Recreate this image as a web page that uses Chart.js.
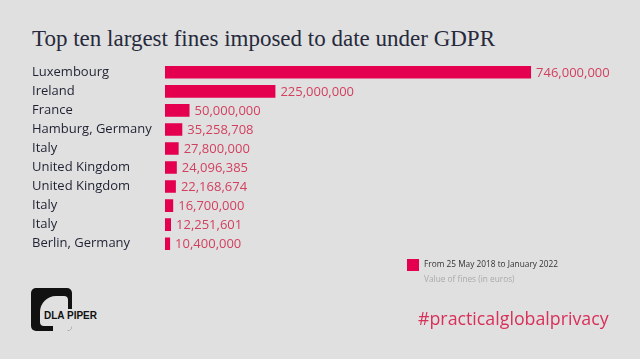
<!DOCTYPE html>
<html>
<head>
<meta charset="utf-8">
<script src="https://cdn.jsdelivr.net/npm/chart.js@4"></script>
<style>
  html, body { margin: 0; padding: 0; }
  body { width: 640px; height: 359px; background: #e0e0e0; position: relative; overflow: hidden; font-family: "Open Sans", sans-serif; }
  #title { position: absolute; left: 32px; top: 26px; font-family: "Liberation Serif", serif; font-size: 23px; color: #262a3c; white-space: nowrap; }
  #wrap { position: absolute; left: 32px; top: 55px; width: 608px; height: 206px; }
  #legend { position: absolute; left: 407px; top: 258px; }
  #legend .box { position: absolute; left: 0; top: 1px; width: 12px; height: 12px; background: #e5004f; }
  #legend .t1 { position: absolute; left: 17px; top: 0; font-size: 8.3px; color: #333; white-space: nowrap; }
  #legend .t2 { position: absolute; left: 17px; top: 15px; font-size: 8.3px; color: #aaa; white-space: nowrap; }
  #logo { position: absolute; left: 31px; top: 288px; width: 41px; height: 43px; background: #111; border-radius: 5px; overflow: hidden; }
  #logo .in { position: absolute; left: 9px; top: 8px; width: 28px; height: 30px; border-radius: 16px 4px 4px 4px; background: #e0e0e0; }
  #logo .gap { position: absolute; left: 22px; top: 21px; width: 20px; height: 23px; border-radius: 4px 0 0 0; background: #e0e0e0; }
  #logotext { position: absolute; left: 44px; top: 310px; font-family: "Liberation Sans", Arial, sans-serif; font-weight: bold; font-size: 10px; color: #111; }
  #hash { position: absolute; left: 418px; top: 306px; font-size: 17.8px; color: #d9305a; white-space: nowrap; }
</style>
</head>
<body>
<div id="title">Top ten largest fines imposed to date under GDPR</div>
<div id="wrap"><canvas id="barChart"></canvas></div>
<div id="legend"><div class="box"></div><div class="t1">From 25 May 2018 to January 2022</div><div class="t2">Value of fines (in euros)</div></div>
<div id="logo"><div class="in"></div><div class="gap"></div></div>
<div id="logotext">DLA PIPER</div>
<div id="hash">#practicalglobalprivacy</div>
<script>
// data
const countries = ['Luxembourg', 'Ireland', 'France', 'Hamburg, Germany', 'Italy',
    'United Kingdom', 'United Kingdom', 'Italy', 'Italy', 'Berlin, Germany'];
const fines = [746000000, 225000000, 50000000, 35258708, 27800000,
    24096385, 22168674, 16700000, 12251601, 10400000];
const axisMax = 968000000;

const valueLabels = {
    id: 'valueLabels',
    afterDatasetsDraw(chart) {
        const ctx = chart.ctx;
        const meta = chart.getDatasetMeta(0);
        ctx.save();
        ctx.font = '13px "Open Sans"';
        ctx.fillStyle = '#d2405f';
        ctx.textBaseline = 'middle';
        meta.data.forEach((bar, i) => {
            ctx.fillText(fines[i].toLocaleString('en-US'), bar.x + 5, bar.y + 1);
        });
        ctx.restore();
    }
};

const ctx = document.getElementById('barChart').getContext('2d');
const barChart = new Chart(ctx, {
    type: 'bar',
    data: {
        labels: countries,
        datasets: [{
            data: fines,
            backgroundColor: '#e5004f',
            barPercentage: 0.66,
            categoryPercentage: 1
        }]
    },
    options: {
        indexAxis: 'y',
        responsive: true,
        maintainAspectRatio: false,
        animation: false,
        layout: { padding: 0 },
        plugins: { legend: { display: false }, tooltip: { enabled: false } },
        scales: {
            x: { display: false, min: 0, max: axisMax },
            y: {
                grid: { display: false },
                border: { display: false },
                ticks: {
                    color: '#1f2233',
                    font: { family: 'Open Sans', size: 13 },
                    crossAlign: 'far',
                    padding: 0
                },
                afterFit(scale) { scale.width = 133; }
            }
        }
    },
    plugins: [valueLabels]
});
</script>
</body>
</html>
